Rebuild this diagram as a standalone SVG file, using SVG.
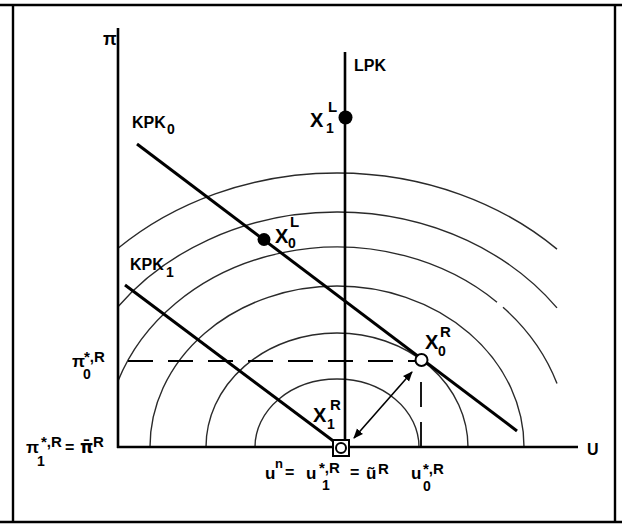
<svg xmlns="http://www.w3.org/2000/svg" width="622" height="525" viewBox="0 0 622 525">
<style>
text{font-family:"Liberation Sans",Arial,sans-serif;font-weight:bold;fill:#000}
.ax{stroke:#000;stroke-width:2.6;fill:none}
.kpk{stroke:#000;stroke-width:3;fill:none;stroke-linecap:butt}
.arc{stroke:#2a2a2a;stroke-width:1.4;fill:none}
.dash{stroke:#000;stroke-width:1.8;fill:none;stroke-dasharray:25 15}
.big{font-size:20px}
.sm{font-size:15px}
.lab{font-size:16px}
.pi{font-size:17px}
</style>
<defs>
<marker id="ah" viewBox="0 0 10 10" refX="9" refY="5" markerWidth="10" markerHeight="10" markerUnits="userSpaceOnUse" orient="auto-start-reverse">
<path d="M0,1 L10,5 L0,9 Z" fill="#000"/>
</marker>
</defs>
<rect width="622" height="525" fill="#fff"/>
<g id="frame" fill="none" stroke="#000" stroke-width="2.4">
<line x1="0" y1="5" x2="622" y2="5"/>
<line x1="0" y1="522" x2="622" y2="522"/>
<line x1="13" y1="5" x2="13" y2="522"/>
<line x1="615" y1="5" x2="615" y2="522"/>
</g>
<g id="arcs">
<path class="arc" d="M118,248.3 A318,274 0 0 1 557,249.1"/>
<path class="arc" d="M118,306.7 A273,235 0 0 1 557,307.9"/>
<path class="arc" d="M118,381 A232,200 0 0 1 497,302.2"/>
<path class="arc" d="M503,307.3 A232,200 0 0 1 557,383.5"/>
<path class="arc" d="M150,447 A187,161 0 0 1 524,447"/>
<path class="arc" d="M206,447 A131,114 0 0 1 468,447"/>
<path class="arc" d="M255,447 A82,68 0 0 1 419,447"/>
</g>
<g id="axes">
<line class="ax" x1="118" y1="28" x2="118" y2="448"/>
<line class="ax" x1="117" y1="447" x2="578" y2="447"/>
<text x="103" y="45" style="font-size:18px">π</text>
<text x="587" y="455" class="lab">U</text>
</g>
<g id="connectors">
<line id="LPK-line" class="ax" x1="345" y1="52" x2="345" y2="440"/>
<line id="KPK0-line" class="kpk" x1="137" y1="144" x2="517" y2="431"/>
<line id="KPK1-line" class="kpk" x1="125" y1="285" x2="336" y2="443"/>
<line id="dash-h" class="dash" x1="128" y1="361" x2="415" y2="361"/>
<path id="dash-v" class="dash" d="M421,447 L421,368"/>
<line id="arrow" x1="354" y1="438" x2="412" y2="372" stroke="#000" stroke-width="1.6" marker-start="url(#ah)" marker-end="url(#ah)"/>
</g>
<g id="LPK"><text x="354" y="71" class="lab">LPK</text></g>
<g id="KPK0"><text x="132" y="128" class="lab">KPK</text><text x="167" y="134" style="font-size:14px">0</text></g>
<g id="KPK1"><text x="130" y="270" class="lab">KPK</text><text x="166" y="277" style="font-size:14px">1</text></g>
<g id="X1L">
<circle cx="345.5" cy="117.5" r="7" fill="#000"/>
<text x="310" y="127" class="big">X</text><text x="328" y="112" class="sm">L</text><text x="326" y="133" style="font-size:14px">1</text>
</g>
<g id="X0L">
<circle cx="264" cy="239.5" r="6.5" fill="#000"/>
<text x="275" y="243" class="big">X</text><text x="290" y="227" class="sm">L</text><text x="288" y="248" style="font-size:14px">0</text>
</g>
<g id="X0R">
<circle cx="421.5" cy="360" r="6" fill="#fff" stroke="#000" stroke-width="2"/>
<text x="425" y="349" class="big">X</text><text x="440" y="337" class="sm">R</text><text x="438" y="356" style="font-size:14px">0</text>
</g>
<g id="X1R">
<rect x="333" y="440" width="16" height="16" fill="#fff" stroke="#000" stroke-width="2"/>
<circle cx="341" cy="448" r="5" fill="#fff" stroke="#000" stroke-width="2"/>
<text x="313" y="422" class="big">X</text><text x="330" y="410" class="sm">R</text><text x="327" y="429" style="font-size:14px">1</text>
</g>
<g id="pi0">
<text x="72" y="367" class="pi">π</text><text x="84" y="362" class="sm">*,R</text><text x="83" y="379" style="font-size:14px">0</text>
</g>
<g id="pi1">
<text x="26" y="453" class="pi">π</text><text x="41" y="447" class="sm">*,R</text><text x="37" y="466" style="font-size:14px">1</text>
<text x="65" y="453" class="lab">=</text>
<text x="80" y="453" class="pi" style="font-family:'DejaVu Sans',sans-serif">π̄</text><text x="93" y="447" class="sm">R</text>
</g>
<g id="un">
<text x="265" y="479" class="pi">u</text><text x="275" y="468" style="font-size:13px">n</text>
<text x="285" y="478" class="lab">=</text>
<text x="306" y="479" class="pi">u</text><text x="319" y="473" class="sm">*,R</text><text x="322" y="490" style="font-size:14px">1</text>
<text x="350" y="478" class="lab">=</text>
<text x="366" y="479" class="pi">ũ</text><text x="378" y="474" class="sm">R</text>
</g>
<g id="u0">
<text x="411" y="479" class="pi">u</text><text x="423" y="474" class="sm">*,R</text><text x="423" y="491" style="font-size:14px">0</text>
</g>
</svg>
